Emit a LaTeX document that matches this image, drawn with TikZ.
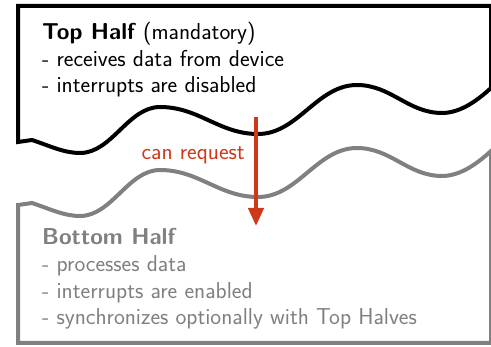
\documentclass[tikz,border=0pt]{standalone}
\usepackage{tikz}
\usetikzlibrary{arrows.meta,positioning}
\definecolor{reqred}{RGB}{204,56,24}
\definecolor{halfgray}{RGB}{128,128,128}

\begin{document}
\begin{tikzpicture}[x=1pt, y=-1pt,
    halfbox/.style={line width=4pt, line join=miter, fill=white},
    halftext/.style={font=\sffamily\fontsize{23}{26.5}\selectfont, align=left, anchor=base west, inner sep=0pt}]
  \useasboundingbox (0,0) rectangle (491,347);

  % Bottom half (grey, wavy top edge)
  \draw[halfbox, draw=halfgray] (491,151) -- (491,343) -- (18,343) -- (18,205) -- (32,203)
    .. controls (50,209) and (64,216) .. (80,216)
    .. controls (112,216) and (128,170) .. (160,170)
    .. controls (199,170) and (219,197) .. (258,197)
    .. controls (298,197) and (317,148) .. (357,148)
    .. controls (391,148) and (408,176) .. (442,176)
    .. controls (462,176) and (480,161) .. (491,151) -- cycle;

  % Top half (black, wavy bottom edge)
  \draw[halfbox, draw=black] (491,88) -- (491,6) -- (18,6) -- (18,142) -- (32,140)
    .. controls (50,146) and (64,153) .. (80,153)
    .. controls (112,153) and (128,107) .. (160,107)
    .. controls (199,107) and (219,134) .. (258,134)
    .. controls (298,134) and (317,85) .. (357,85)
    .. controls (391,85) and (408,113) .. (442,113)
    .. controls (462,113) and (480,98) .. (491,88) -- cycle;

  % texts (anchored at the baseline of the last line)
  \node[halftext] (toptext) at (42,93) {\textbf{Top Half} (mandatory)\\- receives data from device\\- interrupts are disabled};
  \node[halftext, text=halfgray] (bottomtext) at (42,325) {\textbf{Bottom Half}\\[1pt]- processes data\\- interrupts are enabled\\- synchronizes optionally with Top Halves};

  % request arrow
  \coordinate (reqtop) at (256,117);
  \coordinate (reqbot) at (256,226);
  \draw[-{Triangle[width=15pt,length=18pt]}, line width=4pt, reqred] (reqtop) -- (reqbot);
  \node[font=\sffamily\fontsize{23}{26.5}\selectfont, text=reqred, anchor=base east, inner sep=0pt] (reqlabel) at (245,160) {can request};
\end{tikzpicture}
\end{document}
